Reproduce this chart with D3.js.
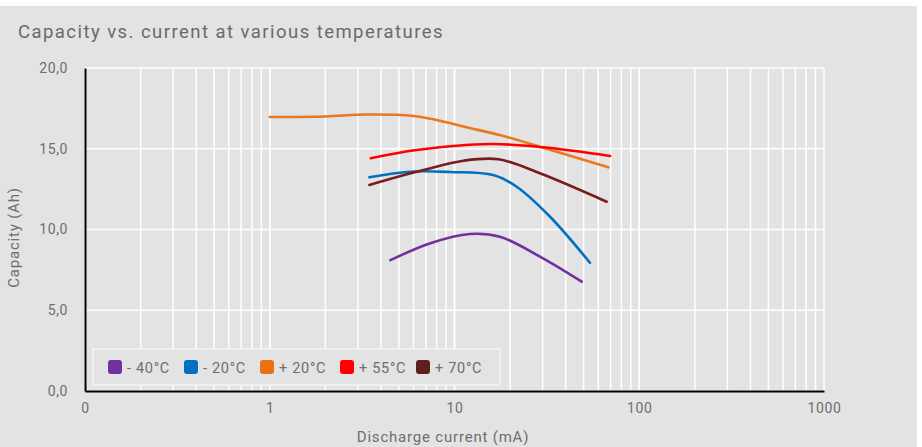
<!DOCTYPE html>
<html>
<head>
<meta charset="utf-8">
<script src="https://cdn.jsdelivr.net/npm/d3@7"></script>
<style>
  body { margin: 0; background: #fff; }
  svg text { font-family: Roboto, "DejaVu Sans", sans-serif; fill: #6e6e6e; }
</style>
</head>
<body>
<div id="chart"></div>
<script>
// series: current in mA, capacity in Ah
const series = ["- 40°C", "- 20°C", "+ 20°C", "+ 55°C", "+ 70°C"];
const colors = ["#7030a0", "#0070c0", "#ea7820", "#ff0000", "#7b1c1c"];
const swatchColors = ["#7030a0", "#0070c0", "#ea7014", "#ff0000", "#5e1f1f"];

const currentM40 = [4.5, 7.4, 12.1, 17.6, 29, 48.8];
const capM40 = [8.1, 9.15, 9.72, 9.55, 8.32, 6.77];

const currentM20 = [3.46, 5.74, 9.46, 16.2, 21.7, 32.9, 54.1];
const capM20 = [13.23, 13.58, 13.56, 13.37, 12.65, 10.79, 7.94];

const currentP20 = [1.0, 2.0, 3.35, 6.0, 8.0, 11.6, 17.6, 29, 68];
const capP20 = [16.97, 17.0, 17.12, 17.03, 16.78, 16.33, 15.85, 15.13, 13.85];

const currentP55 = [3.52, 6.24, 15.6, 30.3, 69.5];
const capP55 = [14.41, 14.92, 15.29, 15.09, 14.55];

const currentP70 = [3.46, 6.78, 11.2, 17.3, 29, 66.6];
const capP70 = [12.76, 13.68, 14.26, 14.35, 13.48, 11.72];

const xTicks = [0.1, 1, 10, 100, 1000];
const xTickLabels = ["0", "1", "10", "100", "1000"];
const yTicks = [0, 5, 10, 15, 20];

const width = 922, height = 447;
const margin = {top: 68, right: 98, bottom: 56, left: 85};

const lines = [
  [currentM40, capM40], [currentM20, capM20], [currentP20, capP20],
  [currentP55, capP55], [currentP70, capP70]
];

const svg = d3.select("#chart").append("svg")
  .attr("width", width)
  .attr("height", height);

// grey panel with thin white strip at top and right
svg.append("rect")
  .attr("x", 0).attr("y", 6)
  .attr("width", 917).attr("height", height - 6)
  .attr("fill", "#e3e3e3");

svg.append("text")
  .attr("x", 18).attr("y", 38)
  .style("font-size", "18.5px")
  .style("letter-spacing", "1.45px")
  .style("fill", "#6a6a6a")
  .text("Capacity vs. current at various temperatures");

const x = d3.scaleLog()
  .domain([0.1, 1000])
  .range([margin.left, width - margin.right]);

const y = d3.scaleLinear()
  .domain([0, 20])
  .range([height - margin.bottom, margin.top]);

// gridlines
const minor = [];
for (let dec = 0.1; dec < 1000; dec *= 10) {
  for (let k = 1; k <= 10; k++) minor.push(+(dec * k).toPrecision(3));
}

svg.append("g")
  .selectAll("line")
  .data(minor)
  .join("line")
  .attr("x1", d => x(d)).attr("x2", d => x(d))
  .attr("y1", y(20)).attr("y2", y(0))
  .attr("stroke", "#fff")
  .attr("stroke-width", 1.5);

svg.append("g")
  .selectAll("line")
  .data(yTicks)
  .join("line")
  .attr("x1", x(0.1)).attr("x2", x(1000))
  .attr("y1", d => y(d)).attr("y2", d => y(d))
  .attr("stroke", "#fff")
  .attr("stroke-width", 1.5);

// axes
const xAxis = svg.append("g")
  .attr("transform", "translate(0," + y(0) + ")")
  .call(d3.axisBottom(x).tickValues(xTicks).tickFormat((d, i) => xTickLabels[i]).tickSize(0).tickPadding(12));
xAxis.select(".domain").attr("stroke", "#000").attr("stroke-width", 2);
xAxis.selectAll("text").style("font-size", "14px").style("letter-spacing", "0.6px").style("fill", "#6e6e6e");

const yAxis = svg.append("g")
  .attr("transform", "translate(" + x(0.1) + ",0)")
  .call(d3.axisLeft(y).tickValues(yTicks).tickFormat(d => d3.format(".1f")(d).replace(".", ",")).tickSize(0).tickPadding(17));
yAxis.select(".domain").attr("stroke", "#000").attr("stroke-width", 2);
yAxis.selectAll("text").style("font-size", "14px").style("letter-spacing", "0.6px").style("fill", "#6e6e6e");

svg.append("text")
  .attr("x", 443)
  .attr("y", 442)
  .attr("text-anchor", "middle")
  .style("font-size", "15px")
  .style("letter-spacing", "0.8px")
  .text("Discharge current (mA)");

svg.append("text")
  .attr("transform", "translate(19," + ((y(0) + y(20)) / 2 + 8) + ") rotate(-90)")
  .attr("text-anchor", "middle")
  .style("font-size", "15px")
  .style("letter-spacing", "0.8px")
  .text("Capacity (Ah)");

// curves
const line = d3.line()
  .x(d => x(d[0]))
  .y(d => y(d[1]))
  .curve(d3.curveCatmullRom.alpha(0.5));

svg.append("g")
  .selectAll("path")
  .data(lines)
  .join("path")
  .attr("d", d => line(d3.zip(d[0], d[1])))
  .attr("fill", "none")
  .attr("stroke", (d, i) => colors[i])
  .attr("stroke-width", 2.6)
  .attr("stroke-linecap", "round");

// legend
const legend = svg.append("g");
legend.append("rect")
  .attr("x", 93).attr("y", 349)
  .attr("width", 407).attr("height", 36)
  .attr("fill", "#e3e3e3")
  .attr("stroke", "#f4f4f4")
  .attr("stroke-width", 1.5);

const itemX = [108, 184, 260, 340, 416];
const item = legend.selectAll("g")
  .data(series)
  .join("g")
  .attr("transform", (d, i) => "translate(" + itemX[i] + ",367)");
item.append("rect")
  .attr("x", 0).attr("y", -7)
  .attr("width", 14).attr("height", 14)
  .attr("rx", 3)
  .attr("fill", (d, i) => swatchColors[i]);
item.append("text")
  .attr("x", 19).attr("y", 5.5)
  .style("font-size", "14.5px")
  .style("letter-spacing", "0.7px")
  .text(d => d);
</script>
</body>
</html>
